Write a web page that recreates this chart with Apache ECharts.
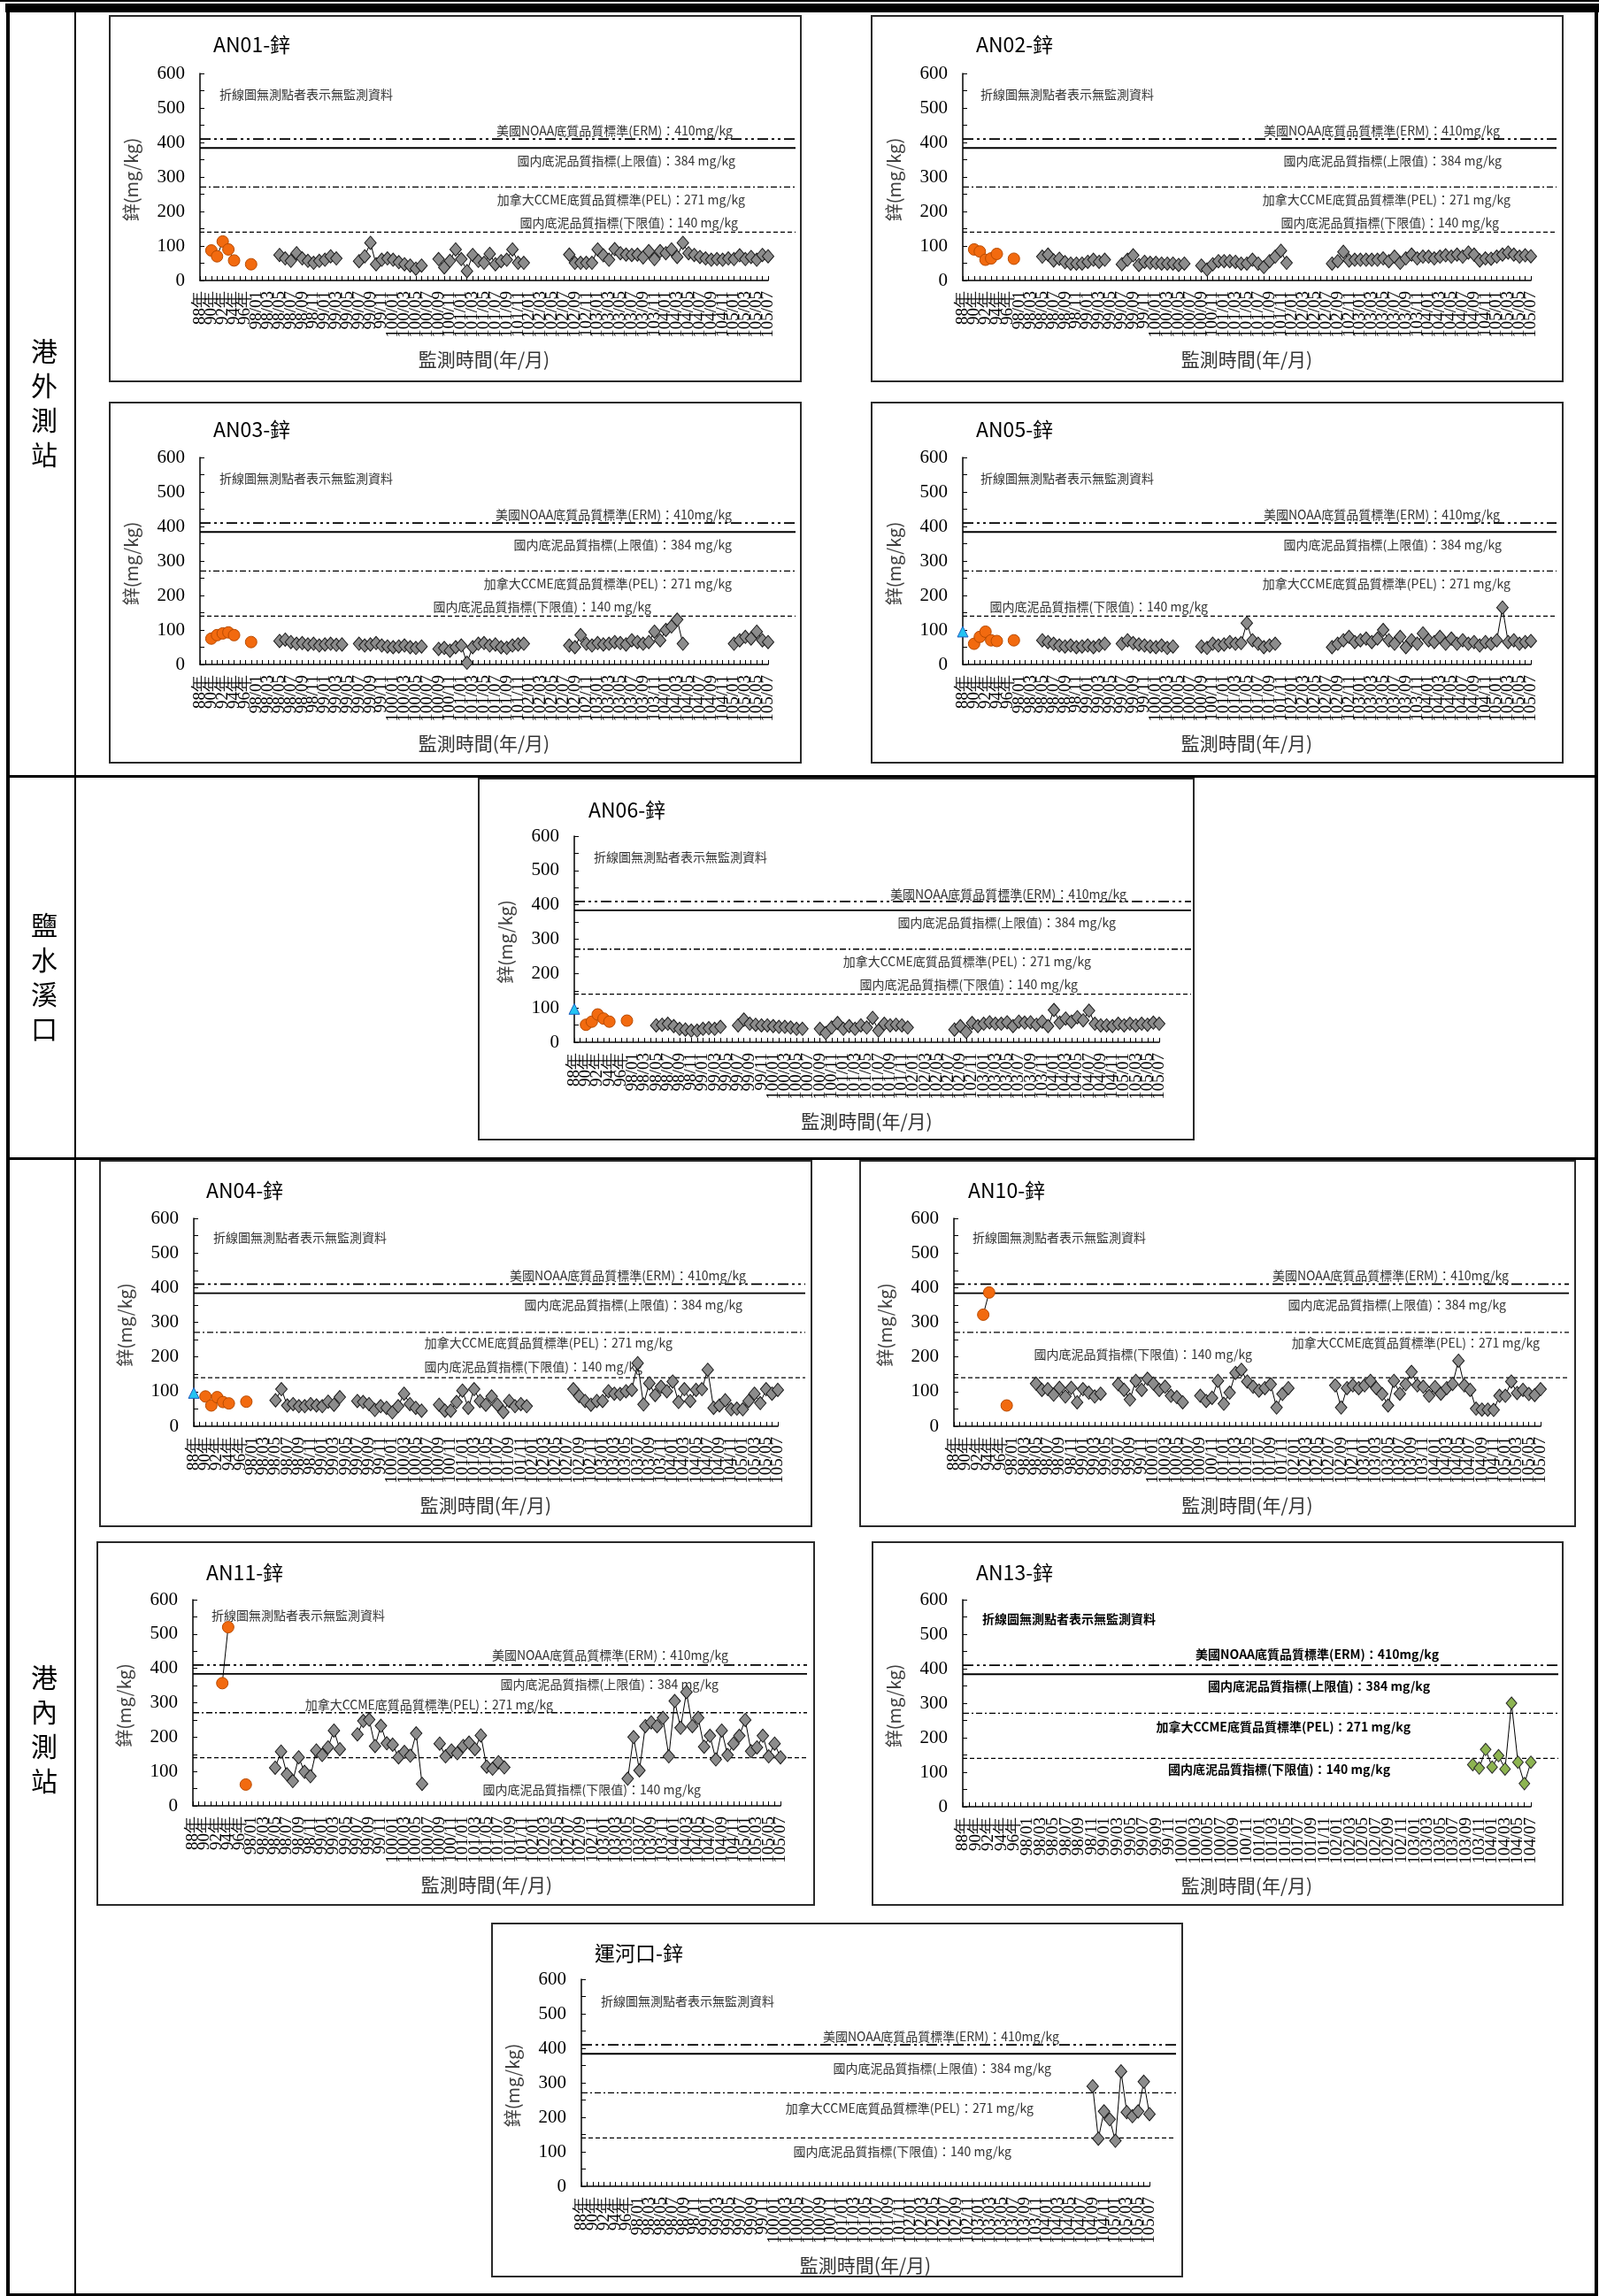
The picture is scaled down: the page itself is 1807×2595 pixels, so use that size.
<!DOCTYPE html>
<html>
<head>
<meta charset="utf-8">
<script src="https://cdn.jsdelivr.net/npm/echarts@6/dist/echarts.min.js"></script>
<style>
  html, body { margin: 0; padding: 0; background: #fff; }
  #page { width: 1807px; height: 2595px; }
</style>
</head>
<body>
<div id="page"></div>
<script>
const _ = null;

// ---- categories ----
const earlyCats = ['88年','89年','90年','91年','92年','93年','94年','95年','96年','97年'];
const monthYears = ['98','99','100','101','102','103','104','105'];
const monthNums = ['01','02','03','04','05','06','07','08','09','10','11','12'];

// ---- reference lines ----
const refValues = [410, 384, 271, 140];
const refTexts = [
  '美國NOAA底質品質標準(ERM)：410mg/kg',
  '國内底泥品質指標(上限值)：384 mg/kg',
  '加拿大CCME底質品質標準(PEL)：271 mg/kg',
  '國内底泥品質指標(下限值)：140 mg/kg'
];
const noteText = '折線圖無測點者表示無監測資料';

// ---- data (mg/kg) ----
const an01Orange = [_,_,87,70,113,90,58,_,_,47];
const an01Gray = [
  _,_,_,_,_,_,_,_,_,_,
  _,_,_,_,74,64,57,79,64,57,51,57,
  60,70,64,_,_,_,56,70,109,47,60,64,
  60,53,47,43,34,43,_,_,62,38,57,90,
  62,27,74,57,51,77,47,56,60,90,51,51,
  _,_,_,_,_,_,_,75,51,51,51,51,
  90,73,60,91,79,75,74,75,67,85,62,85,
  79,90,68,109,79,74,68,64,60,62,60,64,
  62,73,62,68,60,74,70
];

const an02Orange = [_,_,90,84,60,64,77,_,_,63];
const an02Gray = [
  _,_,_,_,_,_,_,_,_,_,
  _,_,_,_,69,75,58,63,53,49,49,49,
  54,60,54,60,_,_,47,60,73,45,54,51,
  51,49,49,49,45,49,_,_,43,32,47,56,
  56,56,54,49,49,60,49,39,56,69,86,51,
  _,_,_,_,_,_,_,49,56,83,58,60,
  60,60,60,60,64,56,69,51,64,75,64,69,
  69,64,69,73,69,75,69,81,75,58,64,63,
  69,75,81,75,69,73,70
];

const an03Orange = [_,_,75,85,90,93,85,_,_,65];
const an03Gray = [
  _,_,_,_,_,_,_,_,_,_,
  _,_,_,_,68,72,65,60,62,58,60,55,
  58,60,57,58,_,_,60,55,58,62,55,52,
  50,52,55,50,48,52,_,_,45,48,40,50,
  55,5,50,60,62,55,58,50,48,55,58,60,
  _,_,_,_,_,_,_,55,50,85,60,55,
  62,58,60,65,62,58,70,65,60,65,95,70,
  100,110,130,60,_,_,_,_,_,_,_,_,
  60,70,80,75,95,70,65
];

const an05Blue = [95];
const an05Orange = [_,_,60,80,95,70,68,_,_,70];
const an05Gray = [
  _,_,_,_,_,_,_,_,_,_,
  _,_,_,_,70,65,60,55,52,55,50,52,
  55,50,55,60,_,_,60,70,62,58,55,52,
  50,55,48,52,_,_,_,_,52,48,60,55,
  58,65,60,62,120,70,60,50,55,60,_,_,
  _,_,_,_,_,_,_,50,60,70,80,65,
  70,75,65,75,100,70,60,80,50,70,60,90,
  70,65,80,60,75,60,70,60,65,55,65,60,
  70,165,65,70,60,65,68
];

const an06Blue = [97];
const an06Orange = [_,_,51,60,81,69,60,_,_,63];
const an06Gray = [
  _,_,_,_,_,_,_,_,_,_,
  _,_,_,_,49,51,54,47,39,37,34,34,
  39,41,39,45,_,_,49,66,54,51,49,49,
  47,45,45,43,39,39,_,_,39,27,43,56,
  39,47,39,49,43,71,34,54,49,51,49,43,
  _,_,_,_,_,_,_,37,47,30,56,47,
  54,58,54,54,58,47,60,57,58,51,60,47,
  94,57,69,60,73,64,92,54,49,49,47,54,
  49,54,49,54,51,57,54
];

const an04Blue = [96];
const an04Orange = [_,_,86,60,84,70,66,_,_,71];
const an04Gray = [
  _,_,_,_,_,_,_,_,_,_,
  _,_,_,_,75,107,60,64,58,58,64,60,
  58,71,62,84,_,_,73,70,64,47,58,53,
  40,58,94,64,53,45,_,_,62,45,45,70,
  103,53,107,73,62,86,62,41,73,58,64,58,
  _,_,_,_,_,_,_,107,87,73,62,73,
  73,101,94,93,101,105,182,63,124,90,114,101,
  129,70,107,73,105,107,163,53,60,75,49,51,
  49,73,94,67,107,94,105
];

const an10Orange = [_,_,_,_,_,322,386,_,_,60];
const an10Gray = [
  _,_,_,_,_,_,_,_,_,_,
  _,_,_,_,123,105,107,91,111,86,111,69,
  107,97,86,94,_,_,121,105,77,131,105,137,
  123,105,114,88,84,69,_,_,88,73,82,131,
  65,97,154,163,129,114,103,110,121,54,93,110,
  _,_,_,_,_,_,_,118,54,110,118,110,
  118,131,110,93,60,131,94,121,157,118,114,88,
  113,94,110,122,189,118,105,51,48,48,47,88,
  88,129,96,105,93,90,107
];

const an11Orange = [_,_,_,_,_,357,520,_,_,62];
const an11Gray = [
  _,_,_,_,_,_,_,_,_,_,
  _,_,_,_,111,158,92,72,141,99,86,161,
  148,170,219,165,_,_,208,247,251,174,233,182,
  178,141,157,146,211,64,_,_,181,144,161,153,
  174,184,165,205,114,108,127,112,_,_,_,_,
  _,_,_,_,_,_,_,_,_,_,_,_,
  _,_,_,_,79,200,103,232,243,232,256,144,
  305,227,331,232,256,172,204,135,219,148,181,204,
  250,159,170,204,144,181,141
];

const an13Green = [
  _,_,_,_,_,_,_,_,_,_,
  _,_,_,_,_,_,_,_,_,_,_,_,
  _,_,_,_,_,_,_,_,_,_,_,_,
  _,_,_,_,_,_,_,_,_,_,_,_,
  _,_,_,_,_,_,_,_,_,_,_,_,
  _,_,_,_,_,_,_,_,_,_,_,_,
  _,_,_,_,_,_,_,_,_,122,112,166,
  115,148,109,300,129,67,129
];

const canalGray = [
  _,_,_,_,_,_,_,_,_,_,
  _,_,_,_,_,_,_,_,_,_,_,_,
  _,_,_,_,_,_,_,_,_,_,_,_,
  _,_,_,_,_,_,_,_,_,_,_,_,
  _,_,_,_,_,_,_,_,_,_,_,_,
  _,_,_,_,_,_,_,_,_,_,_,_,
  _,_,_,_,_,_,_,_,_,_,_,_,
  _,_,_,_,_,_,_,_,290,138,217,194,
  132,333,215,203,217,303,209
];

function monthCats(lastYear, lastMonth) {
  const out = [];
  for (const y of monthYears) {
    for (let m = 0; m < 12; m++) {
      out.push(y + '/' + monthNums[m]);
      if (y === lastYear && m + 1 === lastMonth) return out;
    }
  }
  return out;
}
const catsMain = earlyCats.concat(monthCats('105', 7));
const catsAN13 = earlyCats.concat(monthCats('104', 7));

// ---- marker styles ----
const marks = {
  gray:   { symbol: 'diamond',  size: [13, 15], color: '#8C8C8C', border: '#1a1a1a' },
  orange: { symbol: 'circle',   size: 13, color: '#F26A0F', border: '#B84A00' },
  blue:   { symbol: 'triangle', size: 12, color: '#22C4F2', border: '#1F5FBF' },
  green:  { symbol: 'diamond',  size: [12, 14], color: '#8DB451', border: '#2a2a2a' }
};
const refStyles = [
  { color: '#000', width: 1.8, type: [12, 4, 3, 4, 3, 4] },
  { color: '#000', width: 1.8, type: 'solid' },
  { color: '#000', width: 1.3, type: [7, 3, 2, 3] },
  { color: '#000', width: 1.3, type: [5, 3] }
];

// ---- panels (page pixel layout) ----
const charts = [
  { title: 'AN01-鋅', box: [124, 18, 781, 413], left: 102, top: 65, h: 234, axisEnd: 744, lineEnd: 775,
    titleX: 117, titleY: 32, note: [124, 89], cats: catsMain,
    labels: [[704, 130], [707, 164], [718, 208], [710, 234]],
    series: [['orange', an01Orange], ['gray', an01Gray]] },
  { title: 'AN02-鋅', box: [985, 18, 781, 413], left: 103, top: 65, h: 234, axisEnd: 745, lineEnd: 774,
    titleX: 118, titleY: 32, note: [123, 89], cats: catsMain,
    labels: [[710, 130], [712, 164], [722, 208], [709, 234]],
    series: [['orange', an02Orange], ['gray', an02Gray]] },
  { title: 'AN03-鋅', box: [124, 455, 781, 407], left: 102, top: 62, h: 234, axisEnd: 744, lineEnd: 775,
    titleX: 117, titleY: 30, note: [124, 86], cats: catsMain,
    labels: [[703, 127], [703, 161], [703, 205], [612, 231]],
    series: [['orange', an03Orange], ['gray', an03Gray]] },
  { title: 'AN05-鋅', box: [985, 455, 781, 407], left: 103, top: 62, h: 234, axisEnd: 745, lineEnd: 774,
    titleX: 118, titleY: 30, note: [123, 86], cats: catsMain,
    labels: [[710, 127], [712, 161], [722, 205], [380, 231]],
    series: [['blue', an05Blue], ['orange', an05Orange], ['gray', an05Gray]] },
  { title: 'AN06-鋅', box: [541, 880, 808, 408], left: 108, top: 65, h: 233, axisEnd: 769, lineEnd: 805,
    titleX: 124, titleY: 35, note: [130, 89], cats: catsMain,
    labels: [[732, 131], [720, 163], [692, 207], [677, 233]],
    series: [['blue', an06Blue], ['orange', an06Orange], ['gray', an06Gray]] },
  { title: 'AN04-鋅', box: [113, 1312, 804, 413], left: 106, top: 65, h: 235, axisEnd: 766, lineEnd: 797,
    titleX: 120, titleY: 33, note: [128, 87], cats: catsMain,
    labels: [[730, 130], [726, 163], [647, 206], [613, 233]],
    series: [['blue', an04Blue], ['orange', an04Orange], ['gray', an04Gray]] },
  { title: 'AN10-鋅', box: [972, 1312, 808, 413], left: 106, top: 65, h: 235, axisEnd: 769, lineEnd: 801,
    titleX: 122, titleY: 33, note: [127, 87], cats: catsMain,
    labels: [[733, 130], [730, 163], [768, 206], [443, 219]],
    series: [['orange', an10Orange], ['gray', an10Gray]] },
  { title: 'AN11-鋅', box: [110, 1743, 810, 410], left: 108, top: 65, h: 233, axisEnd: 772, lineEnd: 802,
    titleX: 123, titleY: 34, note: [129, 83], cats: catsMain,
    labels: [[713, 128], [702, 161], [515, 184], [682, 280]],
    series: [['orange', an11Orange], ['gray', an11Gray]] },
  { title: 'AN13-鋅', box: [986, 1743, 780, 410], left: 102, top: 65, h: 234, axisEnd: 744, lineEnd: 775,
    titleX: 117, titleY: 34, note: [124, 87], cats: catsAN13, bold: true,
    labels: [[640, 127], [630, 163], [608, 209], [585, 257]],
    series: [['green', an13Green]] },
  { title: '運河口-鋅', box: [556, 2174, 780, 399], left: 101, top: 63, h: 234, axisEnd: 743, lineEnd: 773,
    titleX: 116, titleY: 33, note: [123, 88], cats: catsMain,
    labels: [[641, 128], [632, 164], [612, 209], [587, 258]],
    series: [['gray', canalGray]] }
];

const sections = [
  { text: '港\n外\n測\n站', y: 455 },
  { text: '鹽\n水\n溪\n口', y: 1104 },
  { text: '港\n內\n測\n站', y: 1954 }
];

const CJK = '"Noto Sans CJK TC", "Noto Sans CJK SC", sans-serif';
const SERIF = '"Liberation Serif", "DejaVu Serif", serif';

const option = {
  animation: false,
  backgroundColor: '#fff',
  grid: [], xAxis: [], yAxis: [], series: [],
  graphic: { elements: [] }
};
const G = option.graphic.elements;

// table frame
[[0, 0, 1807, 2], [6, 4, 1801, 10], [7, 4, 4, 2591], [84, 14, 2, 2581], [1802, 4, 4, 2591],
 [7, 876, 1799, 3], [7, 1308, 1799, 3], [7, 2592, 1799, 3]].forEach(r => {
  G.push({ type: 'rect', shape: { x: r[0], y: r[1], width: r[2], height: r[3] }, style: { fill: '#000' }, silent: true });
});
sections.forEach(s => {
  G.push({ type: 'text', x: 50, y: s.y, style: { text: s.text, fill: '#000', fontSize: 30, lineHeight: 39,
    fontFamily: CJK, align: 'center', verticalAlign: 'middle' }, silent: true });
});

charts.forEach(c => {
  const bx = c.box[0], by = c.box[1];
  const gl = bx + c.left, gt = by + c.top;
  const textColor = c.bold ? '#000' : '#333';
  const weight = c.bold ? 'bold' : 'normal';

  G.push({ type: 'rect', shape: { x: bx, y: by, width: c.box[2], height: c.box[3] },
    style: { fill: 'none', stroke: '#2a2a2a', lineWidth: 2 }, silent: true });
  G.push({ type: 'text', x: bx + c.titleX, y: by + c.titleY, style: { text: c.title, fill: '#000',
    fontSize: 23, fontFamily: CJK, verticalAlign: 'middle' }, silent: true });
  G.push({ type: 'text', x: bx + c.note[0], y: by + c.note[1], style: { text: noteText, fill: textColor,
    fontSize: 14, fontWeight: weight, fontFamily: CJK, verticalAlign: 'middle' }, silent: true });
  c.labels.forEach((p, k) => {
    G.push({ type: 'text', x: bx + p[0], y: by + p[1], style: { text: refTexts[k], fill: textColor,
      fontSize: 14, fontWeight: weight, fontFamily: CJK, align: 'right', verticalAlign: 'middle' }, silent: true });
  });
  // axis names
  G.push({ type: 'text', x: gl - 78, y: gt + c.h / 2 + 3, rotation: Math.PI / 2,
    style: { text: '鋅(mg/kg)', fill: '#404040', fontSize: 20, fontFamily: CJK, align: 'center', verticalAlign: 'middle' }, silent: true });
  G.push({ type: 'text', x: gl + (c.axisEnd - c.left) / 2, y: gt + c.h + 89,
    style: { text: '監測時間(年/月)', fill: '#333', fontSize: 21, fontFamily: CJK, align: 'center', verticalAlign: 'middle' }, silent: true });

  // reference-line grid (wider than the category axis)
  const gi = option.grid.length;
  option.grid.push({ left: gl, top: gt, width: c.lineEnd - c.left, height: c.h, outerBoundsMode: 'none' });
  option.xAxis.push({ type: 'value', gridIndex: gi, min: 0, max: 1, show: false });
  option.yAxis.push({ type: 'value', gridIndex: gi, min: 0, max: 600, show: false });
  refValues.forEach((v, k) => {
    option.series.push({ type: 'line', xAxisIndex: gi, yAxisIndex: gi, data: [[0, v], [1, v]],
      symbol: 'none', silent: true, lineStyle: refStyles[k], z: 1 });
  });

  // data grid
  const di = gi + 1;
  option.grid.push({ left: gl, top: gt, width: c.axisEnd - c.left, height: c.h, outerBoundsMode: 'none' });
  option.xAxis.push({
    type: 'category', gridIndex: di, data: c.cats, boundaryGap: false,
    axisLine: { lineStyle: { color: '#000', width: 1.5 } },
    axisTick: { inside: true, length: 5, interval: 0, lineStyle: { color: '#000' } },
    axisLabel: { interval: 0, rotate: 90, margin: 12, color: '#000', fontSize: 19,
      fontFamily: SERIF, hideOverlap: false,
      formatter: (v, i) => (i % 2 === 0 ? v : '') }
  });
  option.yAxis.push({
    type: 'value', gridIndex: di, min: 0, max: 600, interval: 100,
    axisLine: { show: true, lineStyle: { color: '#000', width: 1.5 } },
    axisTick: { show: true, inside: true, length: 5, lineStyle: { color: '#000' } },
    minorTick: { show: true, splitNumber: 2, length: 5, lineStyle: { color: '#000' } },
    splitLine: { show: false },
    axisLabel: { margin: 17, color: '#000', fontSize: 21, fontFamily: SERIF }
  });
  c.series.forEach(s => {
    const m = marks[s[0]];
    option.series.push({
      type: 'line', xAxisIndex: di, yAxisIndex: di, data: s[1],
      symbol: m.symbol, symbolSize: m.size, showAllSymbol: true, connectNulls: false,
      itemStyle: { color: m.color, borderColor: m.border, borderWidth: 1 },
      lineStyle: { color: '#000', width: 1 }, z: 3
    });
  });
});

const chart = echarts.init(document.getElementById('page'), null, { renderer: 'canvas', width: 1807, height: 2595 });
chart.setOption(option);
</script>
</body>
</html>
